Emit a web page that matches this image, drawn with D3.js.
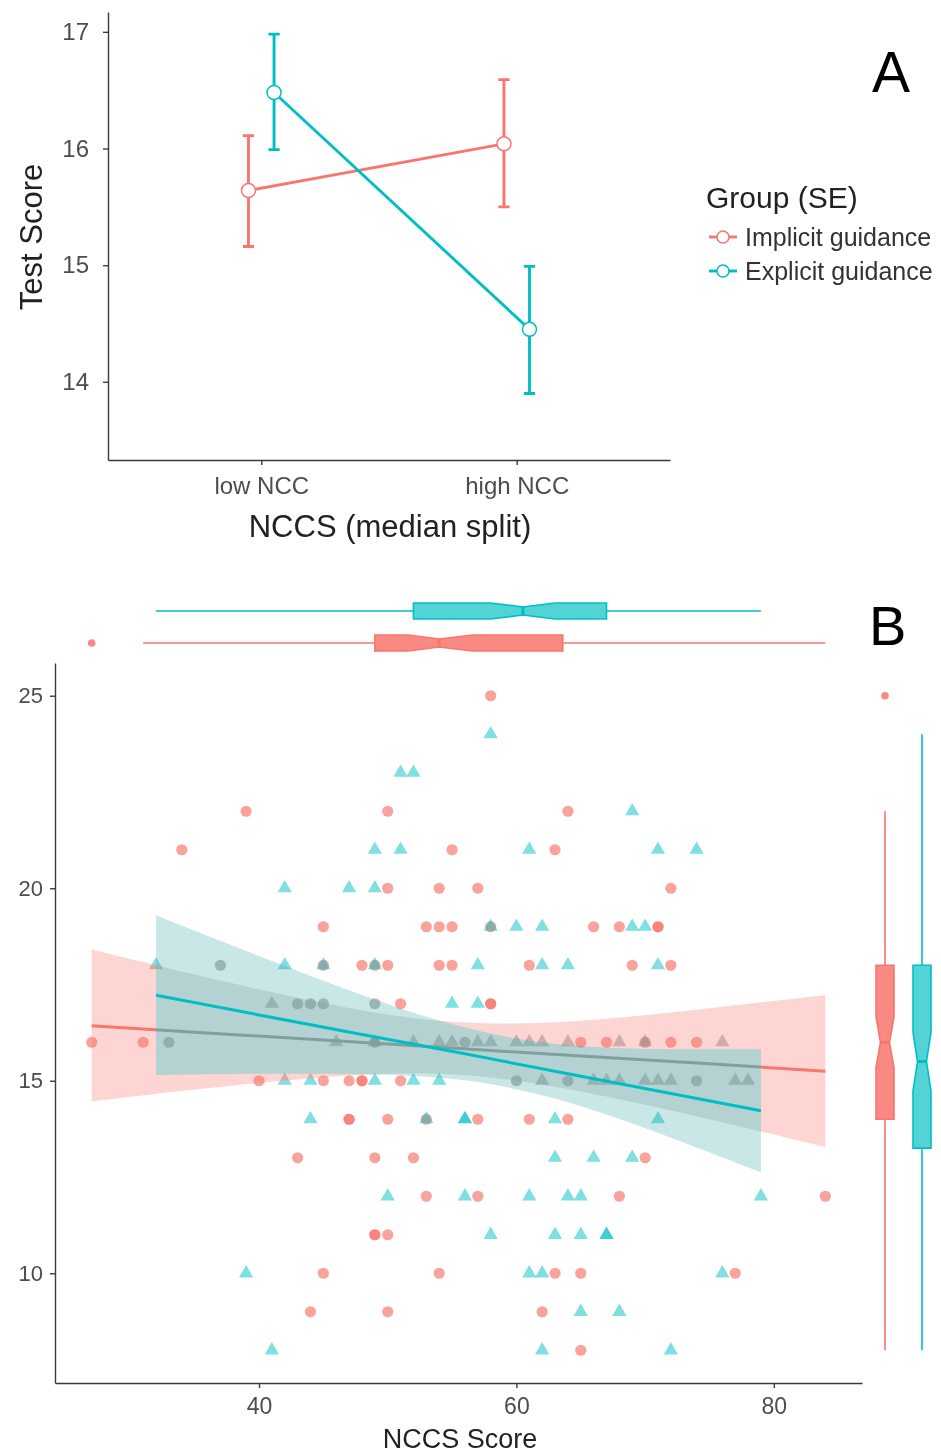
<!DOCTYPE html>
<html>
<head>
<meta charset="utf-8">
<style>
  body { margin: 0; background: white; font-family: "Liberation Sans", Arial, Helvetica, sans-serif; }
  svg { display: block; }
</style>
<script src="https://d3js.org/d3.v7.min.js"></script>
</head>
<body>
<svg id="chart"></svg>
<script>
  // ---- panel A: means with SE bars ----
  const nccLevels = ["low NCC", "high NCC"];
  const implicitMean = [15.64, 16.04];
  const implicitLow = [15.16, 15.50];
  const implicitHigh = [16.11, 16.59];
  const explicitMean = [16.48, 14.45];
  const explicitLow = [15.99, 13.90];
  const explicitHigh = [16.98, 14.99];
  const scoreTicksA = [14, 15, 16, 17];
  const groupNames = ["Implicit guidance", "Explicit guidance"];

  // ---- panel B: raw scores [NCCS, test score] ----
  const implicitPoints = [
    [58,25],
    [39,22],[50,22],[64,22],
    [34,21],[55,21],[63,21],
    [50,20],[54,20],[57,20],[72,20],
    [45,19],[53,19],[54,19],[55,19],[58,19],[66,19],[68,19],[71,19],[71,19],
    [37,18],[45,18],[48,18],[49,18],[50,18],[54,18],[55,18],[61,18],[69,18],[72,18],
    [43,17],[44,17],[45,17],[49,17],[51,17],[58,17],[58,17],
    [27,16],[31,16],[33,16],[49,16],[56,16],[65,16],[67,16],[70,16],[72,16],[74,16],
    [40,15],[45,15],[47,15],[48,15],[48,15],[51,15],[60,15],[64,15],[74,15],
    [47,14],[47,14],[50,14],[53,14],[57,14],[61,14],[64,14],
    [43,13],[49,13],[52,13],[70,13],
    [53,12],[57,12],[68,12],[84,12],
    [49,11],[49,11],[50,11],
    [45,10],[54,10],[63,10],[65,10],[77,10],
    [44,9],[50,9],[62,9],
    [65,8]
  ];
  const explicitPoints = [
    [58,24],
    [51,23],[52,23],
    [69,22],
    [49,21],[51,21],[61,21],[71,21],[74,21],
    [42,20],[47,20],[49,20],
    [58,19],[60,19],[62,19],[69,19],[70,19],
    [32,18],[42,18],[45,18],[49,18],[57,18],[62,18],[64,18],[71,18],
    [41,17],[55,17],[57,17],
    [46,16],[49,16],[52,16],[54,16],[55,16],[57,16],[58,16],[60,16],[61,16],[62,16],[64,16],[68,16],[70,16],[76,16],
    [42,15],[44,15],[49,15],[52,15],[54,15],[62,15],[66,15],[67,15],[68,15],[70,15],[71,15],[72,15],[77,15],[78,15],
    [44,14],[53,14],[56,14],[56,14],[63,14],[71,14],
    [63,13],[66,13],[69,13],
    [50,12],[56,12],[61,12],[64,12],[65,12],[79,12],
    [58,11],[63,11],[65,11],[67,11],[67,11],
    [39,10],[61,10],[62,10],[76,10],
    [65,9],[68,9],
    [41,8],[62,8],[72,8]
  ];

  // linear fits with confidence band
  const implicitFitX = [27, 35, 45, 55, 65, 75, 84];
  const implicitFit = [16.43, 16.26, 16.06, 15.85, 15.64, 15.44, 15.25];
  const implicitLower = [14.46, 14.77, 15.09, 15.17, 14.72, 14.00, 13.28];
  const implicitUpper = [18.41, 17.76, 17.02, 16.53, 16.56, 16.88, 17.23];
  const explicitFitX = [32, 40, 48, 56, 64, 72, 79];
  const explicitFit = [17.22, 16.71, 16.20, 15.70, 15.18, 14.67, 14.22];
  const explicitLower = [15.15, 15.18, 15.17, 15.01, 14.44, 13.52, 12.62];
  const explicitUpper = [19.30, 18.24, 17.23, 16.38, 15.93, 15.82, 15.82];

  // marginal boxplots [implicit, explicit]
  const nccsBoxMin = [31, 32], nccsBoxQ1 = [49, 52], nccsBoxMedian = [54, 60.5];
  const nccsBoxQ3 = [63.6, 67], nccsBoxMax = [84, 79];
  const nccsNotchLow = [51.6, 58.0], nccsNotchHigh = [56.6, 63.0];
  const nccsOutliers = [[27], []];
  const scoreBoxMin = [8, 8], scoreBoxQ1 = [14, 13.25], scoreBoxMedian = [16, 15.5];
  const scoreBoxQ3 = [18, 18], scoreBoxMax = [22, 24];
  const scoreNotchLow = [15.34, 14.74], scoreNotchHigh = [16.66, 16.26];
  const scoreOutliers = [[25], []];

  const nccsTicks = [40, 60, 80];
  const scoreTicksB = [10, 15, 20, 25];

  const red = "#F8766D", teal = "#00BFC4";
  const colours = [red, teal];
  const font = '"Liberation Sans", Arial, Helvetica, sans-serif';

  const svg = d3.select("#chart").attr("width", 941).attr("height", 1456);
  // white backdrop, the ribbons blend against it
  svg.append("rect").attr("width", 941).attr("height", 1456).attr("fill", "white");

  function styleAxis(g, size) {
    g.attr("font-family", font).attr("font-size", size);
    g.select(".domain").attr("stroke", "#3a3a3a").attr("stroke-width", 1.4);
    g.selectAll(".tick line").attr("stroke", "#3a3a3a").attr("stroke-width", 1.4);
    g.selectAll(".tick text").attr("fill", "#4d4d4d");
  }

  // ================= panel A =================
  function drawPanelA() {
    let xA = d3.scaleLinear().domain([0.4, 2.6]).range([108, 670]);
    let yA = d3.scaleLinear().domain([13.33, 17.17]).range([460, 12]);
    let g = svg.append("g");
    let groups = [
      {colour: red, mean: implicitMean, low: implicitLow, high: implicitHigh, shift: -0.05},
      {colour: teal, mean: explicitMean, low: explicitLow, high: explicitHigh, shift: 0.05}
    ];
    let cap = 0.022;

    // error bars
    groups.forEach(grp => {
      grp.mean.forEach((m, i) => {
        let x = i + 1 + grp.shift;
        let p = d3.path();
        p.moveTo(xA(x - cap), yA(grp.high[i])); p.lineTo(xA(x + cap), yA(grp.high[i]));
        p.moveTo(xA(x), yA(grp.high[i])); p.lineTo(xA(x), yA(grp.low[i]));
        p.moveTo(xA(x - cap), yA(grp.low[i])); p.lineTo(xA(x + cap), yA(grp.low[i]));
        g.append("path").attr("d", p.toString()).attr("fill", "none")
          .attr("stroke", grp.colour).attr("stroke-width", 2.9);
      });
    });
    // lines
    groups.forEach(grp => {
      let line = d3.line().x((d, i) => xA(i + 1 + grp.shift)).y(d => yA(d));
      g.append("path").attr("d", line(grp.mean)).attr("fill", "none")
        .attr("stroke", grp.colour).attr("stroke-width", 2.9);
    });
    // points
    groups.forEach(grp => {
      g.selectAll(null).data(grp.mean).enter().append("circle")
        .attr("cx", (d, i) => xA(i + 1 + grp.shift))
        .attr("cy", d => yA(d))
        .attr("r", 7)
        .attr("fill", "white")
        .attr("stroke", grp.colour).attr("stroke-width", 1.5);
    });

    let axisX = g.append("g").attr("transform", "translate(0,460)")
      .call(d3.axisBottom(xA).tickValues([1, 2]).tickFormat(d => nccLevels[d - 1])
        .tickSize(5).tickPadding(12).tickSizeOuter(0));
    styleAxis(axisX, 24);
    let axisY = g.append("g").attr("transform", "translate(108,0)")
      .call(d3.axisLeft(yA).tickValues(scoreTicksA).tickFormat(d3.format("d"))
        .tickSize(5).tickPadding(14).tickSizeOuter(0));
    styleAxis(axisY, 24);

    g.append("text").attr("x", 390).attr("y", 537).attr("text-anchor", "middle")
      .attr("font-family", font).attr("font-size", 31).attr("fill", "#222")
      .text("NCCS (median split)");
    g.append("text").attr("transform", "translate(42,237) rotate(-90)").attr("text-anchor", "middle")
      .attr("font-family", font).attr("font-size", 31).attr("fill", "#222")
      .text("Test Score");

    // legend
    g.append("text").attr("x", 706).attr("y", 208)
      .attr("font-family", font).attr("font-size", 30).attr("fill", "#222")
      .text("Group (SE)");
    groupNames.forEach((name, i) => {
      let y = 237 + i * 34;
      g.append("line").attr("x1", 709).attr("x2", 737).attr("y1", y).attr("y2", y)
        .attr("stroke", colours[i]).attr("stroke-width", 2.9);
      g.append("circle").attr("cx", 723).attr("cy", y).attr("r", 6)
        .attr("fill", "white").attr("stroke", colours[i]).attr("stroke-width", 1.5);
      g.append("text").attr("x", 745).attr("y", y + 9)
        .attr("font-family", font).attr("font-size", 25).attr("fill", "#333")
        .text(name);
    });

    g.append("text").attr("x", 872).attr("y", 92)
      .attr("font-family", font).attr("font-size", 57).attr("fill", "black").text("A");
  }

  // ================= panel B =================
  function drawBox(g, scale, i, orient, centre, half, stats) {
    let {lo, q1, med, q3, hi, nLo, nHi, out} = stats;
    let colour = colours[i];
    let P = orient === "h"
      ? (v, o) => [scale(v), centre + o]
      : (v, o) => [centre + o, scale(v)];
    // whiskers
    let w = d3.path();
    w.moveTo(...P(lo[i], 0)); w.lineTo(...P(q1[i], 0));
    w.moveTo(...P(q3[i], 0)); w.lineTo(...P(hi[i], 0));
    g.append("path").attr("d", w.toString()).attr("stroke", colour).attr("stroke-width", 1.6).attr("fill", "none");
    // notched box
    let pts = [
      P(q1[i], -half), P(nLo[i], -half), P(med[i], -half / 2), P(nHi[i], -half), P(q3[i], -half),
      P(q3[i], half), P(nHi[i], half), P(med[i], half / 2), P(nLo[i], half), P(q1[i], half)
    ];
    g.append("path").attr("d", d3.line()(pts) + "Z")
      .attr("fill", colour).attr("fill-opacity", i === 0 ? 0.85 : 0.68)
      .attr("stroke", colour).attr("stroke-width", 1.6);
    g.append("path").attr("d", d3.line()([P(med[i], -half / 2), P(med[i], half / 2)]))
      .attr("stroke", colour).attr("stroke-width", 3);
    out[i].forEach(v => {
      let c = P(v, 0);
      g.append("circle").attr("cx", c[0]).attr("cy", c[1]).attr("r", 3.8)
        .attr("fill", colour).attr("fill-opacity", 0.85);
    });
  }

  function drawPanelB() {
    let xB = d3.scaleLinear().domain([24.15, 86.85]).range([55, 862]);
    let yB = d3.scaleLinear().domain([7.15, 25.85]).range([1383, 663]);
    let g = svg.append("g");

    // points: circles for implicit, triangles for explicit
    g.selectAll(null).data(implicitPoints).enter().append("circle")
      .attr("cx", d => xB(d[0])).attr("cy", d => yB(d[1])).attr("r", 5.6)
      .attr("fill", red).attr("fill-opacity", 0.68);
    let tri = d3.symbol().type(d3.symbolTriangle).size(88);
    g.selectAll(null).data(explicitPoints).enter().append("path")
      .attr("d", tri)
      .attr("transform", d => `translate(${xB(d[0])},${yB(d[1])})`)
      .attr("fill", teal).attr("fill-opacity", 0.5);

    // fitted lines with bands
    let fits = [
      {colour: red, tint: "#F8766D", tintOpacity: 0.3, xs: implicitFitX, fit: implicitFit, lower: implicitLower, upper: implicitUpper},
      {colour: teal, tint: "#3aa8aa", tintOpacity: 0.27, xs: explicitFitX, fit: explicitFit, lower: explicitLower, upper: explicitUpper}
    ];
    fits.forEach(f => {
      let area = d3.area().curve(d3.curveNatural)
        .x((d, i) => xB(f.xs[i]))
        .y0((d, i) => yB(f.lower[i]))
        .y1((d, i) => yB(f.upper[i]));
      // hue shift of what lies below, then a light tint
      g.append("path").attr("d", area(f.xs)).attr("fill", f.colour)
        .style("mix-blend-mode", "hue").attr("opacity", 0.5);
      g.append("path").attr("d", area(f.xs)).attr("fill", f.tint).attr("fill-opacity", f.tintOpacity);
      let line = d3.line().x((d, i) => xB(f.xs[i])).y(d => yB(d));
      g.append("path").attr("d", line(f.fit)).attr("fill", "none")
        .attr("stroke", f.colour).attr("stroke-width", 3);
    });

    // axes
    let axisX = g.append("g").attr("transform", "translate(0,1383)")
      .call(d3.axisBottom(xB).tickValues(nccsTicks).tickSize(5).tickPadding(10).tickSizeOuter(0));
    styleAxis(axisX, 23);
    let axisY = g.append("g").attr("transform", "translate(55,0)")
      .call(d3.axisLeft(yB).tickValues(scoreTicksB).tickSize(5).tickPadding(7).tickSizeOuter(0));
    styleAxis(axisY, 22);

    g.append("text").attr("x", 460).attr("y", 1448).attr("text-anchor", "middle")
      .attr("font-family", font).attr("font-size", 27).attr("fill", "#222")
      .text("NCCS Score");

    // marginal boxplots
    let nccsStats = {lo: nccsBoxMin, q1: nccsBoxQ1, med: nccsBoxMedian, q3: nccsBoxQ3, hi: nccsBoxMax,
      nLo: nccsNotchLow, nHi: nccsNotchHigh, out: nccsOutliers};
    let scoreStats = {lo: scoreBoxMin, q1: scoreBoxQ1, med: scoreBoxMedian, q3: scoreBoxQ3, hi: scoreBoxMax,
      nLo: scoreNotchLow, nHi: scoreNotchHigh, out: scoreOutliers};
    let topCentres = [643, 611];
    let sideCentres = [885, 922];
    [0, 1].forEach(i => {
      drawBox(g, xB, i, "h", topCentres[i], 8, nccsStats);
      drawBox(g, yB, i, "v", sideCentres[i], 9, scoreStats);
    });

    g.append("text").attr("x", 869).attr("y", 645)
      .attr("font-family", font).attr("font-size", 56).attr("fill", "black").text("B");
  }

  drawPanelA();
  drawPanelB();
</script>
</body>
</html>
